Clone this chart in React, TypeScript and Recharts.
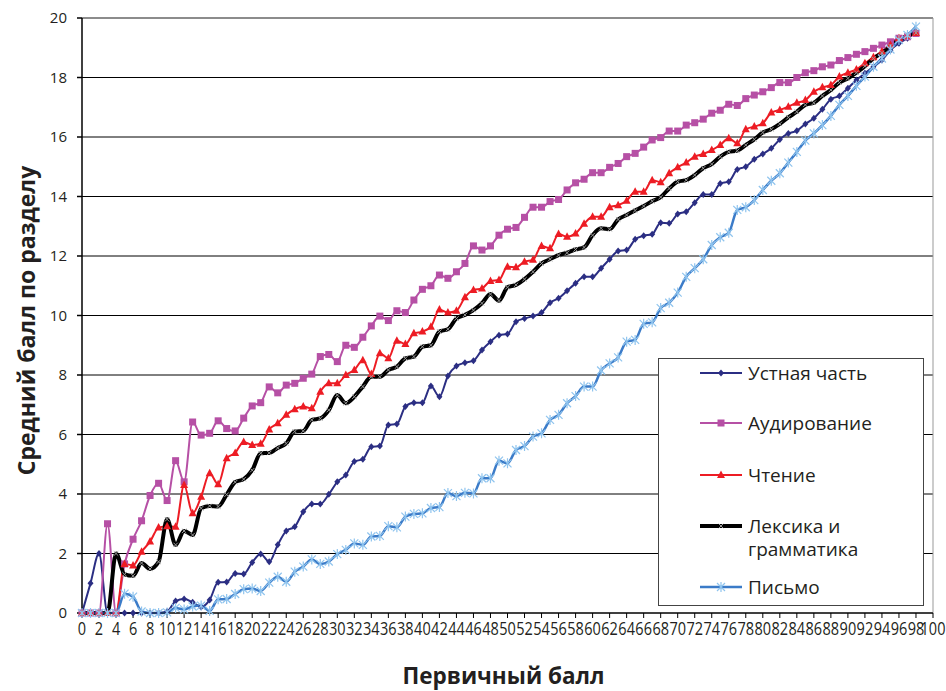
import { LineChart, Line, XAxis, YAxis, CartesianGrid, ReferenceLine, Label } from 'recharts'

// primary score 0..98 (axis runs to 100)
const scores = Array.from({ length: 99 }, (_, i) => i)
const xTicks = Array.from({ length: 51 }, (_, i) => i * 2)
const yTicks = [0, 2, 4, 6, 8, 10, 12, 14, 16, 18, 20]

const oral = [
  0, 1.0, 2.0, 0, 0, 0, 0, 0, 0, 0, 0.05, 0.4, 0.47, 0.36, 0.2, 0.44, 1.03, 1.04, 1.33, 1.31,
  1.7, 1.98, 1.72, 2.29, 2.76, 2.9, 3.4, 3.66, 3.66, 3.99, 4.41, 4.64, 5.09, 5.17, 5.59, 5.61, 6.32, 6.35, 6.94, 7.07,
  7.07, 7.63, 7.27, 7.97, 8.3, 8.41, 8.48, 8.84, 9.12, 9.34, 9.38, 9.79, 9.9, 9.98, 10.1, 10.43, 10.58, 10.83, 11.08, 11.3,
  11.3, 11.59, 11.89, 12.17, 12.2, 12.56, 12.68, 12.73, 13.12, 13.1, 13.41, 13.49, 13.79, 14.07, 14.07, 14.44, 14.5, 14.91, 15.0, 15.25,
  15.43, 15.62, 15.92, 16.12, 16.21, 16.44, 16.63, 16.93, 17.27, 17.38, 17.64, 17.92, 18.14, 18.36, 18.59, 18.92, 19.15, 19.32, 19.54,
]
const listening = [
  0, 0, 0, 3.0, 0, 1.65, 2.48, 3.1, 3.95, 4.36, 3.78, 5.12, 4.41, 6.42, 5.98, 6.04, 6.46, 6.2, 6.12, 6.55,
  6.96, 7.07, 7.6, 7.4, 7.66, 7.72, 7.89, 8.03, 8.62, 8.69, 8.45, 9.0, 8.93, 9.27, 9.65, 9.98, 9.83, 10.16, 10.1, 10.52,
  10.88, 11.0, 11.36, 11.25, 11.47, 11.75, 12.34, 12.2, 12.34, 12.7, 12.9, 12.96, 13.3, 13.64, 13.64, 13.83, 13.9, 14.22, 14.46, 14.58,
  14.8, 14.8, 14.98, 15.11, 15.34, 15.45, 15.66, 15.9, 15.98, 16.2, 16.2, 16.4, 16.48, 16.6, 16.8, 16.9, 17.1, 17.06, 17.29, 17.41,
  17.52, 17.66, 17.83, 17.83, 18.0, 18.16, 18.23, 18.36, 18.42, 18.57, 18.67, 18.78, 18.87, 18.98, 19.09, 19.2, 19.32, 19.37, 19.48,
]
const reading = [
  0, 0, 0, 0, 0, 1.65, 1.6, 2.06, 2.4, 2.87, 2.92, 2.9, 4.3, 3.35, 3.91, 4.7, 4.33, 5.2, 5.38, 5.75,
  5.65, 5.69, 6.17, 6.38, 6.66, 6.85, 6.94, 6.88, 7.44, 7.72, 7.72, 8.0, 8.17, 8.5, 8.03, 8.73, 8.56, 9.15, 9.04, 9.4,
  9.46, 9.62, 10.2, 10.1, 10.16, 10.61, 10.86, 10.91, 11.16, 11.19, 11.64, 11.62, 11.81, 11.87, 12.34, 12.26, 12.74, 12.65, 12.76, 13.08,
  13.32, 13.32, 13.64, 13.71, 13.86, 14.16, 14.16, 14.55, 14.48, 14.78, 14.98, 15.14, 15.34, 15.43, 15.56, 15.73, 15.96, 15.79, 16.26, 16.35,
  16.46, 16.82, 16.91, 17.02, 17.15, 17.24, 17.52, 17.67, 17.75, 18.03, 18.16, 18.27, 18.48, 18.68, 18.87, 19.09, 19.32, 19.4, 19.5,
]
const grammar = [
  0, 0, 0, 0, 2.0, 1.3, 1.25, 1.68, 1.48, 1.72, 3.15, 2.29, 2.76, 2.62, 3.52, 3.6, 3.58, 3.98, 4.4, 4.5,
  4.8, 5.37, 5.38, 5.55, 5.7, 6.1, 6.12, 6.49, 6.54, 6.82, 7.33, 7.05, 7.27, 7.61, 7.94, 7.94, 8.17, 8.28, 8.56, 8.62,
  8.95, 9.0, 9.46, 9.54, 9.9, 10.02, 10.18, 10.41, 10.72, 10.5, 10.95, 11.03, 11.22, 11.47, 11.75, 11.89, 12.03, 12.11, 12.22, 12.29,
  12.7, 12.93, 12.9, 13.23, 13.38, 13.53, 13.68, 13.84, 13.98, 14.27, 14.5, 14.55, 14.72, 14.95, 15.09, 15.34, 15.5, 15.54, 15.73, 15.92,
  16.15, 16.26, 16.44, 16.66, 16.85, 17.08, 17.15, 17.38, 17.58, 17.83, 17.97, 18.16, 18.38, 18.64, 18.83, 19.06, 19.26, 19.4, 19.5,
]
const writing = [
  0, 0, 0, 0, 0, 0.65, 0.55, 0.05, 0, 0, 0.02, 0.17, 0.12, 0.22, 0.25, 0.07, 0.46, 0.47, 0.64, 0.8,
  0.82, 0.74, 1.02, 1.22, 1.05, 1.39, 1.56, 1.8, 1.65, 1.73, 1.98, 2.12, 2.34, 2.29, 2.57, 2.59, 2.92, 2.88, 3.24, 3.33,
  3.35, 3.53, 3.56, 4.03, 3.93, 4.04, 4.02, 4.53, 4.53, 5.12, 5.03, 5.48, 5.61, 5.93, 6.04, 6.49, 6.66, 7.05, 7.29, 7.61,
  7.61, 8.15, 8.39, 8.59, 9.12, 9.18, 9.72, 9.77, 10.25, 10.43, 10.77, 11.3, 11.59, 11.89, 12.37, 12.63, 12.78, 13.55, 13.64, 13.88,
  14.22, 14.53, 14.78, 15.14, 15.5, 15.88, 16.12, 16.4, 16.71, 17.08, 17.38, 17.72, 18.03, 18.36, 18.64, 18.94, 19.26, 19.43, 19.71,
]

const data = scores.map((x, i) => ({
  x,
  oral: oral[i],
  listening: listening[i],
  reading: reading[i],
  grammar: grammar[i],
  writing: writing[i],
}))

const NAVY = '#2b2e83'
const PURPLE = '#b650a5'
const RED = '#ed1c24'
const BLUE = '#3b7bc8'
const BLUE_MARK = '#8fc4ee'
const TEXT = '#231f20'
const FONT = '"Open Sans", "Noto Sans", sans-serif'

function Diamond({ cx, cy }: any) {
  if (cx == null || cy == null) return null
  return <polygon points={`${cx},${cy - 3.5} ${cx + 3},${cy} ${cx},${cy + 3.5} ${cx - 3},${cy}`} fill={NAVY} />
}

function Square({ cx, cy }: any) {
  if (cx == null || cy == null) return null
  return <rect x={cx - 3.5} y={cy - 3.5} width={7} height={7} fill={PURPLE} />
}

function Triangle({ cx, cy }: any) {
  if (cx == null || cy == null) return null
  return <polygon points={`${cx},${cy - 4.5} ${cx + 4},${cy + 3} ${cx - 4},${cy + 3}`} fill={RED} />
}

function Cross({ cx, cy }: any) {
  if (cx == null || cy == null) return null
  const d = 2.2
  return (
    <path d={`M${cx - d},${cy - d}L${cx + d},${cy + d}M${cx - d},${cy + d}L${cx + d},${cy - d}`} stroke="#9a9a9a" strokeWidth={1} />
  )
}

function Star({ cx, cy }: any) {
  if (cx == null || cy == null) return null
  const d = 4
  return (
    <path
      d={`M${cx - d},${cy - d}L${cx + d},${cy + d}M${cx - d},${cy + d}L${cx + d},${cy - d}M${cx},${cy - d - 1}L${cx},${cy + d + 1}`}
      stroke={BLUE_MARK}
      strokeWidth={1.2}
    />
  )
}

function XTick({ x, y, payload }: any) {
  const s = String(payload.value)
  return (
    <text
      x={x}
      y={y + 15}
      textAnchor="middle"
      fontSize={18}
      fontFamily={FONT}
      fill={TEXT}
      textLength={s.length * 8.3}
      lengthAdjust="spacingAndGlyphs"
    >
      {s}
    </text>
  )
}

const legendItems = [
  { label: ['Устная часть'], color: NAVY, width: 2, Mark: Diamond, y: 373 },
  { label: ['Аудирование'], color: PURPLE, width: 2, Mark: Square, y: 423 },
  { label: ['Чтение'], color: RED, width: 2, Mark: Triangle, y: 475 },
  { label: ['Лексика и', 'грамматика'], color: '#000', width: 4, Mark: Cross, y: 526 },
  { label: ['Письмо'], color: BLUE, width: 2.5, Mark: Star, y: 587 },
]

function LegendBox() {
  return (
    <svg width={946} height={691} style={{ position: 'absolute', left: 0, top: 0, pointerEvents: 'none' }}>
      <rect x={658.5} y={358.5} width={265} height={247} fill="#fff" stroke="#444" strokeWidth={1} />
      {legendItems.map(({ label, color, width, Mark, y }) => (
        <g key={label[0]}>
          <line x1={700} x2={742} y1={y} y2={y} stroke={color} strokeWidth={width} />
          <Mark cx={721} cy={y} />
          {label.map((t, i) => (
            <text key={t} x={748} y={y + 7 + i * 23} fontSize={19} fontFamily={FONT} fill={TEXT}>
              {t}
            </text>
          ))}
        </g>
      ))}
    </svg>
  )
}

export default function App() {
  return (
    <div style={{ position: 'absolute', left: 0, top: 0, width: 946, height: 691, background: '#fff' }}>
      <LineChart width={946} height={691} data={data} margin={{ top: 18, right: 13, bottom: 0, left: 0 }}>
        <CartesianGrid horizontal vertical={false} stroke="#000" strokeWidth={1} />
        <XAxis
          dataKey="x"
          type="number"
          domain={[0, 100]}
          ticks={xTicks}
          interval={0}
          height={78}
          tickSize={5}
          stroke="#000"
          tick={<XTick />}
        >
          <Label
            value="Первичный балл"
            position="center"
            dx={-4}
            dy={24}
            style={{ fontSize: 22.5, fontWeight: 700, fontFamily: FONT, fill: TEXT }}
          />
        </XAxis>
        <YAxis
          type="number"
          domain={[0, 20]}
          ticks={yTicks}
          width={82}
          tickSize={5}
          tickMargin={10}
          stroke="#000"
          strokeWidth={1.5}
          tick={{ fontSize: 15, fontFamily: FONT, fill: TEXT }}
        >
          <Label
            value="Средний балл по разделу"
            angle={-90}
            position="center"
            dx={-14}
            dy={5}
            style={{ fontSize: 23, fontWeight: 700, fontFamily: FONT, fill: TEXT, textAnchor: 'middle' }}
          />
        </YAxis>
        <ReferenceLine y={20} stroke="#999" />
        <ReferenceLine x={100} stroke="#999" />
        <Line type="monotone" dataKey="oral" stroke={NAVY} strokeWidth={2} dot={<Diamond />} isAnimationActive={false} />
        <Line type="monotone" dataKey="listening" stroke={PURPLE} strokeWidth={2} dot={<Square />} isAnimationActive={false} />
        <Line type="monotone" dataKey="reading" stroke={RED} strokeWidth={2} dot={<Triangle />} isAnimationActive={false} />
        <Line type="monotone" dataKey="grammar" stroke="#000" strokeWidth={4} dot={<Cross />} isAnimationActive={false} />
        <Line type="monotone" dataKey="writing" stroke={BLUE} strokeWidth={2.5} dot={<Star />} isAnimationActive={false} />
      </LineChart>
      <LegendBox />
    </div>
  )
}
